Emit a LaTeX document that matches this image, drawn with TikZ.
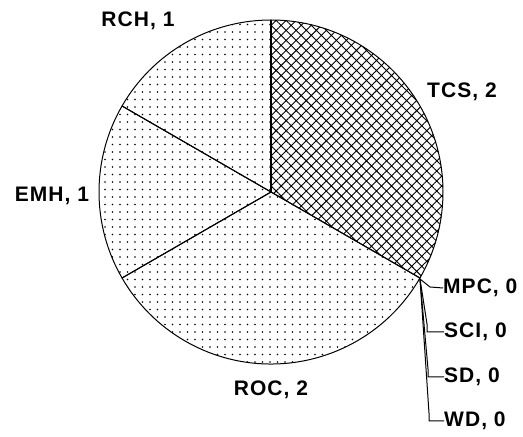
\documentclass[tikz,border=0pt]{standalone}
\usepackage{fontspec}
\setmainfont{Liberation Sans}
\newfontfamily\lblfont[LetterSpace=5]{Liberation Sans}
\usetikzlibrary{patterns.meta}
\begin{document}
\begin{tikzpicture}[x=1pt,y=1pt,
  lbl/.style={font=\lblfont\fontsize{21}{23}\selectfont\bfseries, inner sep=0pt},
  dotfill/.style={pattern={Dots[distance=7.5pt,radius=0.85pt]}},
  hatchfill/.style={pattern={Hatch[angle=45,distance=7.1pt,line width=0.9pt]}},
  slice/.style={draw=black, line width=1pt, line join=round},
  leader/.style={draw=black, line width=1pt}]
\useasboundingbox (0,0) rectangle (523,437);
\coordinate (c) at (271,245);
\def\R{172}
\fill[white] (c) circle (\R);
% slices
\path[slice, hatchfill] (c) -- ++(90:\R) arc[start angle=90, end angle=-30, radius=\R] -- cycle;
\path[slice, dotfill] (c) -- ++(-30:\R) arc[start angle=-30, end angle=-150, radius=\R] -- cycle;
\path[slice, dotfill] (c) -- ++(-150:\R) arc[start angle=-150, end angle=-210, radius=\R] -- cycle;
\path[slice, dotfill] (c) -- ++(150:\R) arc[start angle=150, end angle=90, radius=\R] -- cycle;
\draw[line width=1.5pt] (c) -- ++(90:\R);
% labels
\node[lbl] (rch) at (138,416) {RCH, 1};
\node[lbl] (tcs) at (462,345) {TCS, 2};
\node[lbl] (emh) at (52,241) {EMH, 1};
\node[lbl] (roc) at (271,47) {ROC, 2};
\node[lbl, anchor=west] (mpc) at (443,149) {MPC, 0};
\node[lbl, anchor=west] (sci) at (444,105) {SCI, 0};
\node[lbl, anchor=west] (sd) at (444,60) {SD, 0};
\node[lbl, anchor=west] (wd) at (444,16) {WD, 0};
% leaders
\coordinate (p) at (420,158);
\draw[leader] (p) -- (430,150) -- (mpc.west);
\draw[leader] (p) -- (427,113) -- (427,105) -- (sci.west);
\draw[leader] (p) -- (428,68) -- (428,60) -- (sd.west);
\draw[leader] (p) -- (429,24) -- (429,16) -- (wd.west);
\end{tikzpicture}
\end{document}
